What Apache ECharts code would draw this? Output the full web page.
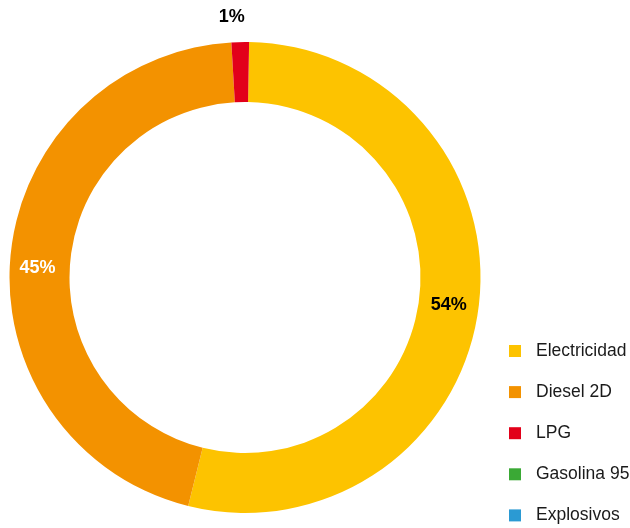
<!DOCTYPE html>
<html>
<head>
<meta charset="utf-8">
<script src="https://cdn.jsdelivr.net/npm/echarts@6/dist/echarts.min.js"></script>
<style>
html,body{margin:0;padding:0;background:#fff;}
#c{width:630px;height:528px;}
</style>
</head>
<body>
<div id="c"></div>
<script>
const categories = ['Electricidad', 'Diesel 2D', 'LPG', 'Gasolina 95', 'Explosivos'];
const values = [53.6, 45.2, 1.2, 0, 0];
const colors = ['#FDC300', '#F39200', '#E2001A', '#3AA935', '#2B9AD3'];
const labelColors = ['#000000', '#FFFFFF', '#000000', '#000000', '#000000'];

const chart = echarts.init(document.getElementById('c'), null, {renderer: 'canvas'});
const data = categories.map((name, i) => {
  const item = {
    name: name,
    value: values[i],
    itemStyle: {color: colors[i]},
    label: {show: values[i] > 0, color: labelColors[i]}
  };
  if (name === 'LPG') {
    item.label.position = 'outside';
    item.labelLine = {show: false, length: 25, length2: 0};
  }
  return item;
});

chart.setOption({
  animation: false,
  legend: {
    orient: 'vertical',
    left: 509,
    top: 342,
    height: 186,
    padding: 0,
    itemWidth: 12,
    itemHeight: 12,
    itemGap: 23.1,
    icon: 'rect',
    textStyle: {fontFamily: 'Liberation Sans, Arial, sans-serif', fontSize: 17.5, color: '#1a1a1a', lineHeight: 18, padding: [0, 0, 0, 10]},
    data: categories
  },
  series: [{
    type: 'pie',
    center: [245, 277.5],
    radius: [175.5, 235.5],
    startAngle: 89,
    clockwise: true,
    avoidLabelOverlap: false,
    label: {
      position: 'inside',
      fontFamily: 'Liberation Sans, Arial, sans-serif',
      fontWeight: 'bold',
      fontSize: 18,
      formatter: p => Math.round(p.value) + '%'
    },
    labelLayout: function (p) {
      if (p.dataIndex === 0) return {dx: -3};
      if (p.dataIndex === 1) return {dy: 10};
      if (p.dataIndex === 2) return {dx: 10};
      return {};
    },
    emphasis: {disabled: true},
    data: data
  }]
});
</script>
</body>
</html>
